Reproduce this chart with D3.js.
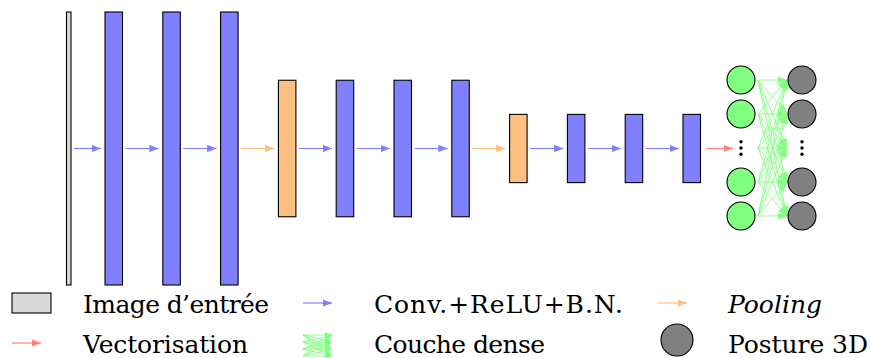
<!DOCTYPE html>
<html><head><meta charset="utf-8">
<script src="https://cdn.jsdelivr.net/npm/d3@7"></script>
<style>body{margin:0;background:#fff}svg{display:block}</style>
</head><body><svg id="c" width="870" height="358"></svg>
<script>
// ---- data ----
const layerTypes = ["input","conv","conv","conv","pool","conv","conv","conv","pool","conv","conv","conv"];
const layerSizes = [4,4,4,4,2,2,2,2,1,1,1,1];
const outRows = [0,1,2,3,4];          // row 2 is the ellipsis
const ellipsisRow = 2;
const legendLabels = ["Image d\u2019entrée","Vectorisation","Conv.+ReLU+B.N.","Couche dense","Pooling","Posture 3D"];
const legendKinds  = ["input","flatten","conv","dense","pool","output"];

// ---- styles ----
const fillC = {input:"#d9d9d9", conv:"#8080ff", pool:"#ffbf80"};
const arrowC = {conv:"#8080ff", pool:"#ffbf80", flatten:"#ff8080", dense:"#80ff80"};
const FONT = "'DejaVu Serif', serif";

const svg = d3.select("#c");
const defs = svg.append("defs");
function marker(id,color,len,hw){
  defs.append("marker").attr("id",id).attr("markerUnits","userSpaceOnUse")
    .attr("viewBox",`0 ${-hw} ${len} ${2*hw}`).attr("refX",len).attr("refY",0)
    .attr("markerWidth",len).attr("markerHeight",2*hw).attr("orient","auto")
    .append("path").attr("d",`M0,${-hw}L${len},0L0,${hw}Z`).attr("fill",color);
}
Object.entries(arrowC).forEach(([k,c])=>{ marker("m-"+k,c,9.5,3.7); marker("s-"+k,c,7,3); });

const cy = 148.5;
const h = d3.scaleLinear().domain([0,4]).range([0,273]);
const x = d3.scaleLinear().domain([1,11]).range([105,683]);
const barW = 17.5, inW = 4.5, inGap = 34;
const left = i => i===0 ? x(1)-inGap-inW : x(i);
const width = i => i===0 ? inW : barW;

const g = svg.append("g");
g.selectAll("rect.layer").data(layerTypes).join("rect").attr("class","layer")
  .attr("x",(d,i)=>left(i)).attr("width",(d,i)=>width(i))
  .attr("y",(d,i)=>cy-h(layerSizes[i])/2).attr("height",(d,i)=>h(layerSizes[i]))
  .attr("fill",d=>fillC[d]).attr("stroke","#000").attr("stroke-width",1.1);

// arrows between layers
const pairs = d3.range(1,layerTypes.length);
g.selectAll("line.arr").data(pairs).join("line")
  .attr("x1",i=>left(i-1)+width(i-1)+3).attr("x2",i=>left(i)-4)
  .attr("y1",cy).attr("y2",cy)
  .attr("stroke",i=>arrowC[layerTypes[i]]).attr("stroke-width",1.2)
  .attr("marker-end",i=>`url(#m-${layerTypes[i]})`);

// output network
const nx = d3.scalePoint().domain(["hidden","out"]).range([741,802]);
const ny = d3.scaleLinear().domain([0,4]).range([80,216]);
const r = 14;
const last = layerTypes.length-1;
g.append("line").attr("x1",left(last)+width(last)+6).attr("x2",nx("hidden")-8)
  .attr("y1",cy).attr("y2",cy).attr("stroke",arrowC.flatten).attr("stroke-width",1.2)
  .attr("marker-end","url(#m-flatten)");

const edges = [];
outRows.forEach(a=>outRows.forEach(b=>edges.push([a,b])));
g.selectAll("line.dense").data(edges).join("line")
  .attr("x1",nx("hidden")+r+3).attr("y1",d=>ny(d[0]))
  .attr("x2",nx("out")-r-1).attr("y2",d=>ny(d[1]))
  .attr("stroke",arrowC.dense).attr("stroke-width",0.9)
  .attr("marker-end","url(#m-dense)");

["hidden","out"].forEach(col=>{
  const nodes = outRows.filter(r0=>r0!==ellipsisRow);
  g.selectAll("circle."+col).data(nodes).join("circle").attr("class",col)
    .attr("cx",nx(col)).attr("cy",d=>ny(d)).attr("r",r)
    .attr("fill",col==="hidden"?"#80ff80":"#808080").attr("stroke","#000").attr("stroke-width",1.1);
  g.selectAll("circle.dot"+col).data([-1,0,1]).join("circle").attr("class","dot"+col)
    .attr("cx",nx(col)).attr("cy",d=>ny(ellipsisRow)+d*6.2).attr("r",1.7).attr("fill","#000");
});

// ---- legend ----
const lgIconX = [12,303,658];
const lgTextX = [83,374,728];
const rowY = [303,343];
const textW = [186,165,249,171,94,140];
const lg = svg.append("g");
legendKinds.forEach((k,i)=>{
  const c = Math.floor(i/2), rr = i%2;
  const ix = lgIconX[c], iy = rowY[rr];
  if(k==="input"){
    lg.append("rect").attr("x",ix).attr("y",iy-10).attr("width",39).attr("height",20)
      .attr("fill",fillC.input).attr("stroke","#000").attr("stroke-width",1.1);
  } else if(k==="output"){
    lg.append("circle").attr("cx",ix+19).attr("cy",iy-3).attr("r",16)
      .attr("fill","#808080").attr("stroke","#000").attr("stroke-width",1.1);
  } else if(k==="dense"){
    const ys = d3.range(4).map(j=>iy-8+j*7);
    ys.forEach(a=>ys.forEach(b=>{
      lg.append("line").attr("x1",ix).attr("y1",a).attr("x2",ix+29).attr("y2",b)
        .attr("stroke",arrowC.dense).attr("stroke-width",0.9).attr("marker-end","url(#s-dense)");
    }));
  } else {
    lg.append("line").attr("x1",ix).attr("x2",ix+29).attr("y1",iy).attr("y2",iy)
      .attr("stroke",arrowC[k]).attr("stroke-width",1.2).attr("marker-end",`url(#m-${k})`);
  }
  lg.append("text").attr("x",lgTextX[c]).attr("y",iy+10)
    .attr("font-family",FONT)
    .attr("font-size",25).attr("font-style",k==="pool"?"italic":"normal")
    .attr("textLength",textW[i]).attr("lengthAdjust","spacing")
    .text(legendLabels[i]);
});
</script></body></html>
